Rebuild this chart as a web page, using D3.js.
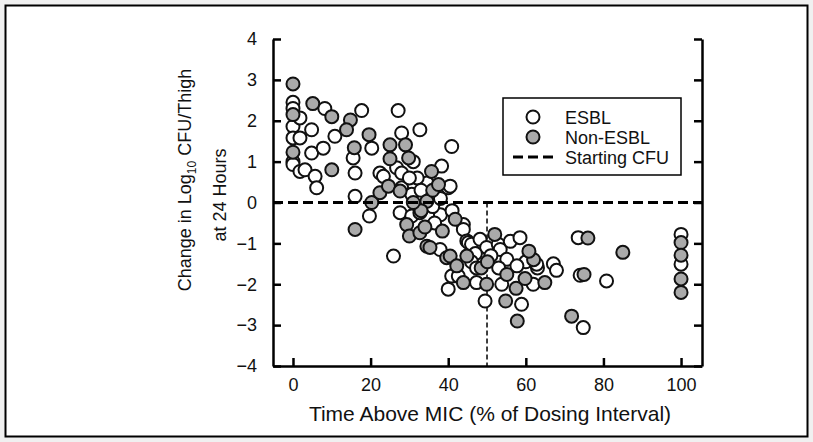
<!DOCTYPE html>
<html>
<head>
<meta charset="utf-8">
<script src="https://cdn.jsdelivr.net/npm/d3@7"></script>
<style>
  body { margin: 0; background: #f0f0f0; }
  text { font-family: "Liberation Sans", Arial, Helvetica, sans-serif; fill: #111; }
</style>
</head>
<body>
<svg id="chart" width="813" height="442"></svg>
<script>
// ESBL strains (open circles): [time above MIC %, change in log10 CFU]
const esbl = [
  [0, 2.45], [0, 2.3], [0, 1.86], [0, 1.58], [0, 1.0], [0, 0.93],
  [1.8, 2.07], [1.8, 1.58], [1.8, 0.76], [3.1, 0.8], [4.8, 1.78], [4.8, 1.21],
  [5.7, 0.64], [6.1, 0.36], [8.2, 2.3], [7.8, 1.33], [10.8, 1.62], [15.5, 1.09],
  [16, 0.72], [16, 0.15], [17.7, 2.25], [19.7, -0.33], [20.3, 1.33], [22.4, 0.72],
  [23.3, 0.64], [26.7, 0.85], [27.1, 2.25], [28, 1.7], [28, 0.72], [28, 0.36],
  [30.6, 0.2], [27.6, -0.25], [30.6, -0.33], [32.7, -0.25], [32.7, 1.78], [34.5, 0.48],
  [34.5, 0], [38.3, 0.89], [40, 0.36], [40.5, 0.4], [40.9, 1.37], [31, 1.0],
  [36, 0.2], [38, -0.3], [32, 0.6], [33, 0.3], [36, -0.1], [30, 0.6],
  [38, 0.1], [41, -0.2], [36.5, -0.5], [25.9, -1.31], [43.9, -0.54], [43.9, -0.66],
  [44.8, -0.94], [37.9, -1.15], [40.9, -1.8], [40, -2.12], [42.6, -1.8], [45.2, -0.98],
  [46, -1.02], [48.2, -0.9], [49.9, -1.1], [52.9, -1.02], [53.4, -1.15], [55.1, -1.39],
  [47, -1.25], [51, -1.3], [53, -1.6], [46, -1.45], [56, -0.95], [60, -1.45], [63, -1.6],
  [57.7, -1.55], [58.5, -0.86], [62.8, -1.51], [67.1, -1.5], [67.9, -1.66], [47.3, -1.6],
  [47.3, -1.96], [53.8, -2.0], [61.9, -2.0], [49.5, -2.41], [58.9, -2.49], [73.5, -0.86],
  [74, -1.78], [80.8, -1.92], [74.8, -3.06], [100, -0.78], [100, -1.51]
];

// Non-ESBL strains (grey filled circles)
const nonEsbl = [
  [0, 2.9], [0, 2.15], [0, 1.23], [5.1, 2.42], [10, 2.1], [14.8, 2.02],
  [13.8, 1.78], [19.6, 1.66], [15.8, 1.34], [25, 1.41], [29, 1.41], [25, 1.07],
  [29.8, 1.09], [10, 0.8], [20.3, 0], [22.4, 0.24], [24.6, 0.4], [27.6, 0.28],
  [16, -0.66], [29.3, -0.54], [30, -0.82], [32.7, -0.74], [34.5, 0.03], [34, -0.6],
  [36, 0.3], [33, -0.2], [38.5, -0.7], [31, 0.0], [48.5, -1.6], [62, -1.4],
  [34.5, -1.07], [35.7, 0.76], [37.5, 0.44], [39.6, -1.35], [41.8, -0.41], [35.3, -1.1],
  [40.5, -1.31], [44.8, -1.31], [42.2, -1.55], [43.9, -1.96], [52, -0.78], [50.1, -1.45],
  [60.8, -1.19], [55.1, -1.76], [59.8, -1.86], [64.9, -1.96], [57.5, -2.1], [49.9, -2.0],
  [54.8, -2.41], [57.8, -2.9], [76, -0.87], [85, -1.22], [75, -1.76], [71.8, -2.78],
  [100, -0.98], [100, -1.29], [100, -1.87], [100, -2.2]
];

const xTicks = [0, 20, 40, 60, 80, 100];
const yTicks = [-4, -3, -2, -1, 0, 1, 2, 3, 4];
const startingCfu = 0;
const breakpoint = 50;

const svg = d3.select("#chart");

// outer frame
svg.append("rect")
  .attr("x", 5.5).attr("y", 5.5)
  .attr("width", 802).attr("height", 431)
  .attr("fill", "#fff").attr("stroke", "#000").attr("stroke-width", 2);

const x = d3.scaleLinear().domain([-5.15, 105.4]).range([273, 702]);
const y = d3.scaleLinear().domain([-4, 4]).range([366, 39]);

// axes, ticks pointing inward
const axisStyle = (g) => {
  g.select(".domain").attr("stroke", "#000").attr("stroke-width", 2.5);
  g.selectAll(".tick line").attr("stroke", "#000").attr("stroke-width", 2.5);
  g.selectAll(".tick text").style("font-size", "18px").attr("fill", "#111");
};

svg.append("g")
  .attr("transform", "translate(0,366)")
  .call(d3.axisBottom(x).tickValues(xTicks).tickSizeInner(-8).tickSizeOuter(0).tickPadding(12))
  .call(axisStyle);

svg.append("g")
  .attr("transform", "translate(273,0)")
  .call(d3.axisLeft(y).tickValues(yTicks).tickSizeInner(-8).tickSizeOuter(0).tickPadding(16))
  .call(axisStyle);

svg.append("g")
  .attr("transform", "translate(702,0)")
  .call(d3.axisRight(y).tickValues(yTicks).tickSizeInner(-8).tickSizeOuter(0).tickFormat(""))
  .call(axisStyle);

// breakpoint line
svg.append("line")
  .attr("x1", x(breakpoint)).attr("x2", x(breakpoint))
  .attr("y1", y(startingCfu)).attr("y2", y(-4))
  .attr("stroke", "#000").attr("stroke-width", 1.5).attr("stroke-dasharray", "5,3");

// points
const drawPoints = (data, fill) => {
  svg.append("g").selectAll("circle")
    .data(data)
    .join("circle")
    .attr("cx", (d) => x(d[0]))
    .attr("cy", (d) => y(d[1]))
    .attr("r", 6.5)
    .attr("fill", fill)
    .attr("stroke", "#111")
    .attr("stroke-width", 2);
};
drawPoints(esbl, "#fff");
drawPoints(nonEsbl, "#aaaaaa");

svg.append("line")
  .attr("x1", x.range()[0]).attr("x2", x.range()[1])
  .attr("y1", y(startingCfu)).attr("y2", y(startingCfu))
  .attr("stroke", "#000").attr("stroke-width", 3).attr("stroke-dasharray", "10,5");

// axis titles
svg.append("text")
  .attr("x", 490)
  .attr("y", 421)
  .attr("text-anchor", "middle")
  .style("font-size", "21px")
  .text("Time Above MIC (% of Dosing Interval)");

const yTitle = svg.append("text")
  .attr("transform", "translate(191,180) rotate(-90)")
  .attr("text-anchor", "middle")
  .style("font-size", "18px");
yTitle.append("tspan").text("Change in Log");
yTitle.append("tspan").attr("dy", 5).style("font-size", "12px").text("10");
yTitle.append("tspan").attr("dy", -5).text(" CFU/Thigh");

svg.append("text")
  .attr("transform", "translate(226,195) rotate(-90)")
  .attr("text-anchor", "middle")
  .style("font-size", "18px")
  .text("at 24 Hours");

// legend
const legend = svg.append("g").attr("transform", "translate(503,98)");
legend.append("rect")
  .attr("width", 178).attr("height", 77)
  .attr("fill", "#fff").attr("stroke", "#000").attr("stroke-width", 1.5);
const legendItems = [
  { label: "ESBL", type: "circle", fill: "#fff" },
  { label: "Non-ESBL", type: "circle", fill: "#aaaaaa" },
  { label: "Starting CFU", type: "line" }
];
legendItems.forEach((item, i) => {
  const cy = 19 + i * 20;
  if (item.type === "circle") {
    legend.append("circle")
      .attr("cx", 30).attr("cy", cy).attr("r", 6.5)
      .attr("fill", item.fill).attr("stroke", "#111").attr("stroke-width", 2);
  } else {
    legend.append("line")
      .attr("x1", 10).attr("x2", 50).attr("y1", cy).attr("y2", cy)
      .attr("stroke", "#000").attr("stroke-width", 3).attr("stroke-dasharray", "10,5");
  }
  legend.append("text")
    .attr("x", 62).attr("y", cy + 6.5)
    .style("font-size", "18px")
    .text(item.label);
});
</script>
</body>
</html>
